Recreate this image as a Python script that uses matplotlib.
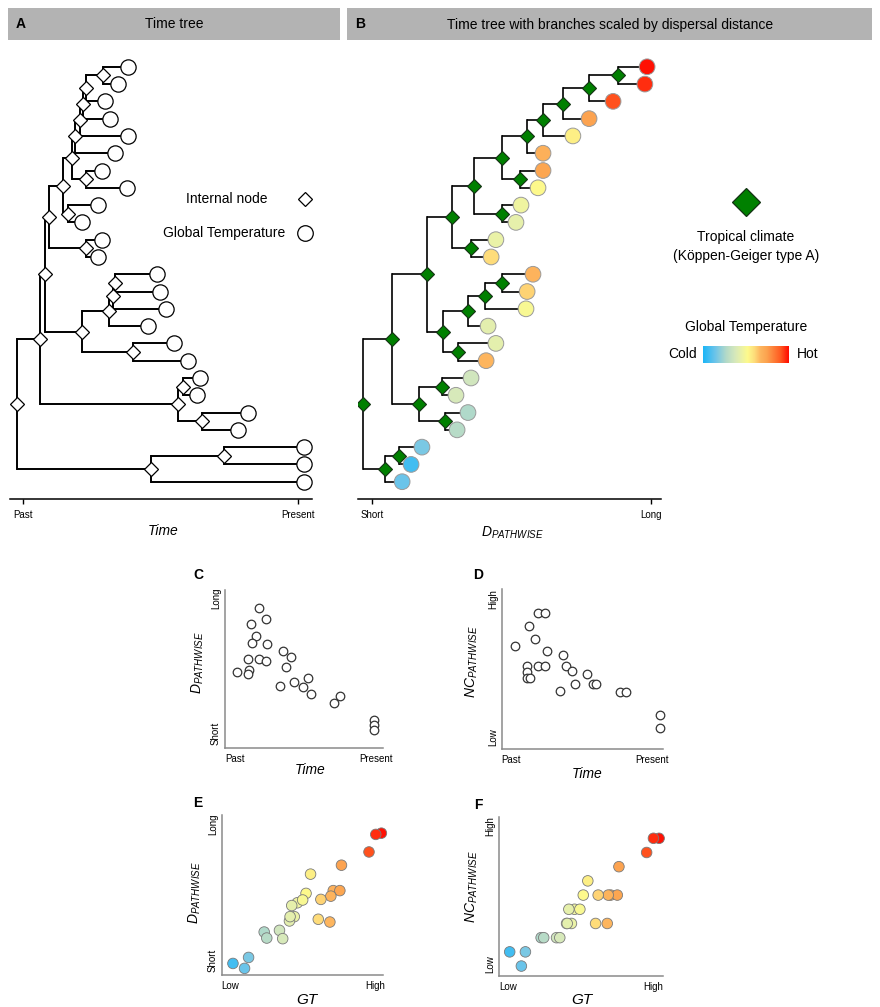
import numpy as np
import matplotlib
matplotlib.use("Agg")
import matplotlib.pyplot as plt
from matplotlib.colors import LinearSegmentedColormap
from matplotlib.patches import Rectangle
from matplotlib.lines import Line2D

plt.rcParams["font.family"] = ["Liberation Sans", "DejaVu Sans"]
plt.rcParams["mathtext.fontset"] = "custom"
plt.rcParams["mathtext.it"] = "Liberation Sans:italic"
plt.rcParams["mathtext.rm"] = "Liberation Sans"

# --- tree topology: internal nodes n0..n23, children listed before parents ---
node_kids = [
    ("t1", "t2"), ("n0", "t3"), ("n1", "t4"), ("n2", "t5"), ("n3", "t6"),
    ("t7", "t8"), ("n4", "n5"), ("t9", "t10"), ("n6", "n7"), ("t11", "t12"),
    ("n8", "n9"), ("t13", "t14"), ("n11", "t15"), ("n12", "t16"), ("t17", "t18"),
    ("n13", "n14"), ("n10", "n15"), ("t19", "t20"), ("t21", "t22"), ("n17", "n18"),
    ("n16", "n19"), ("t23", "t24"), ("n21", "t25"), ("n20", "n22"),
]

# panel A: time (Past = 0, Present = 100)
time_tips = [38.2, 34.5, 29.8, 31.6, 38.2, 33.5, 28.7, 37.8, 27.3, 21.5,
             28.7, 27.3, 48.7, 49.8, 52.0, 45.5, 54.9, 60.0, 64.4, 63.3,
             81.8, 78.2, 102.2, 102.2, 102.2]
time_nodes = [29.0, 22.9, 21.8, 20.7, 18.9, 22.9, 17.8, 16.4, 14.5, 22.9,
              9.5, 33.5, 32.7, 31.3, 40.0, 21.5, 8.0, 58.2, 65.1, 56.4,
              6.2, 73.1, 46.5, -2.2]

# panel B: pathwise dispersal distance (Short = 0, Long = 100)
dist_tips = [98.6, 97.8, 86.4, 77.8, 72.0, 61.3, 61.3, 59.5, 53.4, 51.6,
             44.4, 42.7, 57.7, 55.6, 55.2, 41.6, 44.4, 40.9, 35.5, 30.1,
             34.4, 30.5, 17.9, 14.0, 10.8]
dist_nodes = [88.2, 77.8, 68.5, 61.3, 55.6, 53.0, 46.6, 46.6, 36.6, 35.5,
              28.7, 46.6, 40.5, 34.4, 30.8, 25.4, 19.7, 25.1, 26.2, 16.8,
              7.2, 9.7, 4.7, -3.2]

# global temperature at tips (Low = 0, High = 100) and node count from root
gt_tips = [99.0, 95.5, 91.3, 74.2, 55.0, 69.1, 73.2, 52.2, 46.8, 43.3,
           44.9, 59.8, 67.6, 61.4, 50.1, 41.9, 42.3, 67.0, 35.7, 37.7,
           26.2, 27.8, 16.5, 6.8, 14.0]
nc_tips = [11, 11, 10, 9, 8, 7, 7, 7, 6, 6, 5, 5, 7, 7, 6, 5, 5, 5, 4, 4, 4, 4, 3, 3, 2]

# panel C and D points
c_time = [21.7, 25.7, 16.4, 19.6, 16.8, 26.7, 14.7, 21.3, 25.9, 7.8, 15.2, 14.7, 36.8,
          41.7, 38.5, 34.7, 43.8, 49.5, 52.8, 54.7, 68.8, 72.6, 94.3, 94.3, 94.3]
c_dpath = [88.8, 81.5, 78.5, 70.9, 66.7, 65.9, 56.4, 56.4, 54.9, 48.0, 49.5, 46.7, 61.5,
           57.3, 51.4, 39.4, 41.5, 38.5, 44.6, 33.9, 28.4, 32.6, 17.5, 14.3, 11.2]
d_time = [7.8, 16.9, 20.6, 22.1, 26.4, 27.8, 15.5, 15.5, 15.5, 17.5, 22.1, 26.8,
          36.1, 38.1, 39.8, 43.3, 45.4, 52.6, 56.3, 58.4, 73.2, 77.3, 97.9, 97.9]
d_nc = [64.6, 77.1, 68.8, 85.0, 85.0, 61.0, 52.1, 47.9, 44.4, 44.4, 52.1, 52.1,
        36.5, 59.0, 52.1, 49.0, 40.8, 46.9, 40.6, 40.6, 35.4, 35.4, 21.5, 13.1]

gt_cmap = LinearSegmentedColormap.from_list("gt", [
    (0.0, "#1cb6f7"), (0.14, "#6cc4ea"), (0.27, "#b4dac8"), (0.37, "#d5e8bc"),
    (0.45, "#ebf2a6"), (0.52, "#fdfa8c"), (0.60, "#fedc7a"), (0.67, "#fdb55e"),
    (0.74, "#fca450"), (0.90, "#ff5c22"), (1.0, "#ff0a00")])

W, H = 880, 1007
fig = plt.figure(figsize=(W / 100, H / 100), dpi=100)


def px_axes(x0, y0, x1, y1):
    return fig.add_axes([x0 / W, 1 - y1 / H, (x1 - x0) / W, (y1 - y0) / H])


def ptext(x, y, s, **kw):
    kw.setdefault("ha", "center")
    kw.setdefault("va", "center")
    fig.text(x / W, 1 - y / H, s, **kw)


def pmark(x, y, **kw):
    fig.add_artist(Line2D([x / W], [1 - y / H], transform=fig.transFigure, ls="none", **kw))


def draw_tree(ax, tip_x, node_x, lw):
    xy = {f"t{i + 1}": (tip_x[i], i + 1) for i in range(len(tip_x))}
    for k, (a, b) in enumerate(node_kids):
        xy[f"n{k}"] = (node_x[k], (xy[a][1] + xy[b][1]) / 2)
    for k, (a, b) in enumerate(node_kids):
        x0 = node_x[k]
        ax.plot([x0, x0], [xy[a][1], xy[b][1]], color="black", lw=lw,
                solid_capstyle="projecting", zorder=1)
        for c in (a, b):
            ax.plot([x0, xy[c][0]], [xy[c][1], xy[c][1]], color="black", lw=lw,
                    solid_capstyle="butt", zorder=1)
    nx = [xy[f"n{k}"][0] for k in range(len(node_kids))]
    ny = [xy[f"n{k}"][1] for k in range(len(node_kids))]
    return nx, ny


def tree_axes(ax, xlim, labels):
    ax.set_xlim(*xlim)
    ax.set_ylim(26, 0)
    for s in ("top", "left", "right"):
        ax.spines[s].set_visible(False)
    ax.spines["bottom"].set_linewidth(1.1)
    ax.set_yticks([])
    ax.set_xticks([0, 100], labels)
    ax.tick_params(axis="x", length=3.5, width=1, pad=4.5, labelsize=7)
    ax.patch.set_alpha(0)


# --- headers ---
for x0, x1, letter, title in [(8, 340, "A", "Time tree"),
                              (347, 872, "B", "Time tree with branches scaled by dispersal distance")]:
    fig.add_artist(Rectangle((x0 / W, 1 - 39.5 / H), (x1 - x0) / W, 31 / H,
                             transform=fig.transFigure, facecolor="#b3b3b3", edgecolor="none"))
    ptext(x0 + 13, 24.5, letter, fontsize=10, fontweight="bold")
    ptext((x0 + x1) / 2 + (0 if letter == "A" else 1), 24.5, title, fontsize=10)

# --- panel A: time tree ---
axA = px_axes(10, 49.5, 312, 499)
nx, ny = draw_tree(axA, time_tips, time_nodes, 1.4)
axA.plot(nx, ny, ls="none", marker="D", ms=7.2, mfc="white", mec="black", mew=0.9, zorder=3)
axA.plot(time_tips, range(1, 26), ls="none", marker="o", ms=11, mfc="white", mec="black",
         mew=0.9, zorder=3, clip_on=False)
tree_axes(axA, (-4.73, 105.09), ["Past", "Present"])
ptext(163, 531, "Time", fontsize=10, style="italic")

ptext(226.5, 199, "Internal node", fontsize=10)
ptext(224, 233, "Global Temperature", fontsize=10)
pmark(305, 199, marker="D", ms=7.4, mfc="white", mec="black", mew=0.9)
pmark(305, 233, marker="o", ms=11.2, mfc="white", mec="black", mew=0.9)

# --- panel B: distance tree ---
axB = px_axes(358, 49.5, 661, 499)
nx, ny = draw_tree(axB, dist_tips, dist_nodes, 1.2)
axB.plot(nx, ny, ls="none", marker="D", ms=7.4, mfc="#008000", mec="#143214", mew=0.8, zorder=3)
axB.scatter(dist_tips, range(1, 26), s=11.3 ** 2, c=[g / 100 for g in gt_tips], cmap=gt_cmap,
            vmin=0, vmax=1, edgecolors="#9a9a9a", linewidths=0.7, zorder=3, clip_on=False)
tree_axes(axB, (-5.02, 103.58), ["Short", "Long"])
ptext(512, 533, r"$D_{PATHWISE}$", fontsize=10)

pmark(746, 202, marker="D", ms=14, mfc="#008000", mec="#143214", mew=0.9)
ptext(746, 237, "Tropical climate", fontsize=10)
ptext(746, 256, "(Köppen-Geiger type A)", fontsize=10)
ptext(746, 327, "Global Temperature", fontsize=10)
ptext(697, 354, "Cold", fontsize=10, ha="right")
ptext(797, 354, "Hot", fontsize=10, ha="left")
axcb = px_axes(703, 346, 789, 363)
axcb.imshow(np.linspace(0, 1, 256)[None, :], aspect="auto", cmap=gt_cmap)
axcb.axis("off")


# --- scatter panels ---
def scatter_axes(ax, xlim, ylim, xlabels, ylabels, xf=(0.06, 0.945), yf=(0.085, 0.94)):
    ax.set_xlim(*xlim)
    ax.set_ylim(*ylim)
    for s in ("top", "right"):
        ax.spines[s].set_visible(False)
    for s in ("left", "bottom"):
        ax.spines[s].set_color("#8a8a8a")
        ax.spines[s].set_linewidth(1.1)
    ax.set_xticks([xlim[0] + f * (xlim[1] - xlim[0]) for f in xf], xlabels)
    ax.set_yticks([ylim[0] + f * (ylim[1] - ylim[0]) for f in yf], ylabels,
                  rotation=90, va="center")
    ax.tick_params(length=0, labelsize=7, color="#333333")
    ax.tick_params(axis="x", pad=4)
    ax.tick_params(axis="y", pad=3)


axC = px_axes(225, 590, 383, 748)
axC.scatter(c_time, c_dpath, s=38, facecolors="white", edgecolors="#333333", linewidths=0.9,
            clip_on=False)
scatter_axes(axC, (0, 100), (0, 100), ["Past", "Present"], ["Short", "Long"],
             xf=(0.063, 0.956), yf=(0.095, 0.95))
ptext(198, 575, "C", fontsize=10, fontweight="bold")
ptext(310, 770, "Time", fontsize=10, style="italic")
ptext(198, 663, r"$D_{PATHWISE}$", fontsize=10, rotation=90)

axD = px_axes(502, 589, 663, 749)
axD.scatter(d_time, d_nc, s=38, facecolors="white", edgecolors="#333333", linewidths=0.9,
            clip_on=False)
scatter_axes(axD, (0, 100), (0, 100), ["Past", "Present"], ["Low", "High"],
             xf=(0.056, 0.93), yf=(0.075, 0.94))
ptext(478, 575, "D", fontsize=10, fontweight="bold")
ptext(587, 774, "Time", fontsize=10, style="italic")
ptext(472, 662, r"$NC_{PATHWISE}$", fontsize=10, rotation=90)

gt_col = [gt_cmap(g / 100) for g in gt_tips]

axE = px_axes(222, 815, 383, 975)
axE.scatter(gt_tips, dist_tips, s=58, c=gt_col, edgecolors="#7a7a7a", linewidths=0.6,
            clip_on=False)
scatter_axes(axE, (0, 100), (6.5, 110.4), ["Low", "High"], ["Short", "Long"],
             xf=(0.05, 0.95), yf=(0.094, 0.94))
ptext(198, 803, "E", fontsize=10, fontweight="bold")
ptext(307, 1000, "GT", fontsize=11, style="italic")
ptext(195, 893, r"$D_{PATHWISE}$", fontsize=10, rotation=90)

axF = px_axes(499, 817, 663, 976)
axF.scatter(gt_tips, nc_tips, s=58, c=gt_col, edgecolors="#7a7a7a", linewidths=0.6,
            clip_on=False)
scatter_axes(axF, (0.2, 101.4), (1.3, 12.5), ["Low", "High"], ["Low", "High"],
             xf=(0.055, 0.94), yf=(0.075, 0.94))
ptext(478, 805, "F", fontsize=10, fontweight="bold")
ptext(582, 1000, "GT", fontsize=11, style="italic")
ptext(472, 887, r"$NC_{PATHWISE}$", fontsize=10, rotation=90)

fig.savefig("out.png", dpi=100)
